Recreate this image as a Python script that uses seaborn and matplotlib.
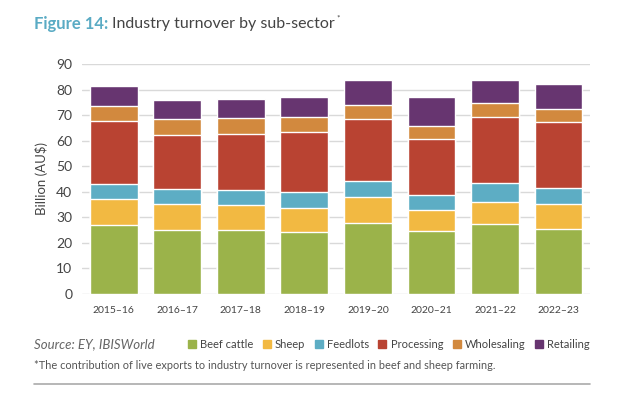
import pandas as pd
import seaborn as sns
import matplotlib.pyplot as plt
from matplotlib.lines import Line2D

years = ['2015–16', '2016–17', '2017–18', '2018–19', '2019–20', '2020–21', '2021–22', '2022–23']
beef_cattle = [26.9, 24.9, 24.9, 24.4, 27.9, 24.6, 27.3, 25.3]
sheep = [10.3, 10.4, 9.8, 9.3, 10.1, 8.2, 8.6, 9.8]
feedlots = [5.8, 5.6, 5.8, 6.1, 6.2, 5.9, 7.7, 6.4]
processing = [24.8, 21.5, 22.3, 23.5, 24.3, 21.9, 25.5, 25.7]
wholesaling = [5.9, 5.9, 5.9, 6.0, 5.5, 5.1, 5.7, 5.3]
retailing = [7.8, 7.5, 7.7, 7.8, 9.6, 11.5, 8.9, 9.7]

sectors = ['Beef cattle', 'Sheep', 'Feedlots', 'Processing', 'Wholesaling', 'Retailing']
colors = ['#9BB34A', '#F2B942', '#5DADC4', '#B94332', '#D2893E', '#673570']

df = pd.DataFrame({'Beef cattle': beef_cattle, 'Sheep': sheep, 'Feedlots': feedlots,
                   'Processing': processing, 'Wholesaling': wholesaling,
                   'Retailing': retailing}, index=years)
cum = df.cumsum(axis=1)

sns.set_theme(style='white')
plt.rcParams['font.family'] = ['Lato', 'DejaVu Sans']

fig = plt.figure(figsize=(6.3, 3.96), dpi=100)
ax = fig.add_axes([0.130, 0.2576, 0.807, 0.5808])

# stacked bars: draw cumulative totals from the top series down
for name, col in reversed(list(zip(sectors, colors))):
    sns.barplot(x=years, y=cum[name].values, color=col, width=0.75,
                saturation=1, ax=ax, zorder=2)

ax.set_ylim(0, 90)
ax.set_xlim(-0.5, 7.5)
ax.set_yticks(range(0, 91, 10))
ax.yaxis.grid(True, color='#d9d9d9', linewidth=1, zorder=0)
ax.set_axisbelow(True)
sns.despine(ax=ax, left=True, bottom=True)
ax.tick_params(axis='y', length=0, pad=7, labelsize=10, labelcolor='#444444')
ax.tick_params(axis='x', length=0, pad=9, labelsize=7.5, labelcolor='#444444')
ax.set_ylabel('Billion (AU$)', fontsize=9.5, color='#444444', labelpad=6)
ax.set_xlabel('')

# title in pieces
fig.canvas.draw()
r = fig.canvas.get_renderer()
t1 = fig.text(0.054, 0.94, 'Figure 14:', fontsize=12, fontweight='bold',
              color='#5AABC4', va='center')
bb = t1.get_window_extent(r)
t2 = fig.text(bb.x1 / 630 + 0.006, 0.94, 'Industry turnover by sub-sector',
              fontsize=11.5, color='#444444', va='center')
bb2 = t2.get_window_extent(r)
fig.text(bb2.x1 / 630 + 0.002, 0.955, '*', fontsize=6, color='#444444', va='center')

# source and legend
fig.text(0.054, 0.131, 'Source: EY, IBISWorld', fontsize=9.5, style='italic',
         color='#666666', va='center')
handles = [Line2D([], [], marker='s', linestyle='none', markersize=5.5,
                  markerfacecolor=c, markeredgecolor=c) for c in colors]
leg = fig.legend(handles, sectors, loc='center right', bbox_to_anchor=(0.945, 0.131),
                 ncol=6, frameon=False, fontsize=8, handlelength=0.7,
                 handletextpad=0.4, columnspacing=0.85, borderpad=0)
for t in leg.get_texts():
    t.set_color('#444444')

fig.text(0.054, 0.076,
         '*The contribution of live exports to industry turnover is represented in beef and sheep farming.',
         fontsize=7.9, color='#555555', va='center')
fig.add_artist(Line2D([0.054, 0.937], [0.03, 0.03], color='#aaaaaa', linewidth=1.2))

fig.savefig('out.png', dpi=100)
